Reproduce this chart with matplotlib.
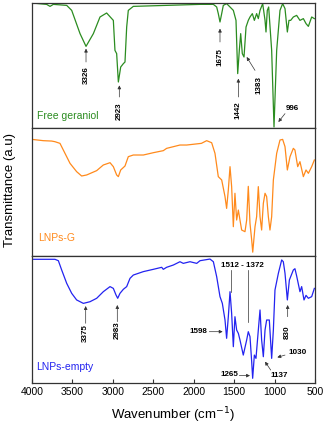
import matplotlib
matplotlib.use("Agg")
from matplotlib import pyplot as plt

plt.rcParams["font.family"] = ["Liberation Sans", "DejaVu Sans"]

wn_ger = [4000, 3819, 3777, 3736, 3571, 3509, 3406, 3332, 3241, 3159, 3077, 2994,
          2974, 2953, 2932, 2903, 2870, 2850, 2829, 2809, 2747, 2335, 1922, 1757,
          1716, 1696, 1675, 1654, 1634, 1593, 1551, 1510, 1477, 1456, 1436, 1419,
          1399, 1378, 1353, 1325, 1304, 1275, 1250, 1222, 1201, 1180, 1147, 1118,
          1106, 1090, 1073, 1036, 1007, 974, 933, 900, 871, 842, 822, 801, 768,
          727, 686, 644, 611, 582, 541, 508]
t_ger = [1.0, 0.989, 0.973, 0.989, 0.981, 0.941, 0.755, 0.653, 0.755, 0.888, 0.92,
         0.861, 0.621, 0.595, 0.368, 0.488, 0.515, 0.528, 0.808, 0.941, 0.973, 0.981,
         0.989, 0.989, 0.968, 0.915, 0.848, 0.915, 0.981, 0.995, 0.968, 0.941, 0.861,
         0.435, 0.621, 0.755, 0.595, 0.568, 0.808, 0.861, 0.888, 0.915, 0.861, 0.915,
         0.875, 0.941, 0.995, 0.861, 0.768, 0.941, 0.968, 0.621, 0.008, 0.621, 0.941,
         0.995, 0.955, 0.768, 0.861, 0.861, 0.888, 0.901, 0.861, 0.875, 0.835, 0.813,
         0.888, 0.875]

wn_g = [4000, 3860, 3757, 3716, 3654, 3592, 3530, 3448, 3386, 3324, 3200, 3118,
        3035, 2994, 2953, 2932, 2903, 2850, 2809, 2747, 2623, 2500, 2376, 2335,
        2252, 2170, 2087, 1905, 1840, 1778, 1737, 1696, 1654, 1613, 1593, 1572,
        1551, 1531, 1510, 1490, 1469, 1448, 1428, 1407, 1366, 1345, 1325, 1304,
        1283, 1270, 1242, 1222, 1201, 1180, 1160, 1139, 1118, 1098, 1077, 1057,
        1036, 1015, 974, 933, 900, 871, 842, 809, 768, 748, 714, 686, 644, 611,
        582, 541, 508]
t_g = [0.911, 0.901, 0.898, 0.893, 0.880, 0.802, 0.724, 0.659, 0.625, 0.633, 0.667,
       0.711, 0.729, 0.698, 0.633, 0.620, 0.672, 0.703, 0.776, 0.789, 0.789, 0.807,
       0.823, 0.841, 0.854, 0.867, 0.867, 0.880, 0.901, 0.885, 0.802, 0.620, 0.594,
       0.464, 0.372, 0.516, 0.698, 0.542, 0.229, 0.490, 0.281, 0.359, 0.281, 0.203,
       0.190, 0.281, 0.544, 0.255, 0.125, 0.03, 0.229, 0.307, 0.542, 0.307, 0.203,
       0.411, 0.490, 0.464, 0.307, 0.203, 0.307, 0.594, 0.802, 0.906, 0.911, 0.854,
       0.672, 0.776, 0.841, 0.828, 0.698, 0.737, 0.620, 0.672, 0.646, 0.698, 0.750]

wn_e = [4000, 3860, 3716, 3674, 3633, 3571, 3509, 3448, 3365, 3283, 3200, 3118,
        3035, 2994, 2961, 2940, 2912, 2870, 2829, 2788, 2747, 2623, 2500, 2396,
        2376, 2335, 2252, 2170, 2129, 2046, 1963, 1922, 1799, 1757, 1716, 1675,
        1646, 1613, 1593, 1572, 1551, 1531, 1510, 1490, 1469, 1448, 1428, 1387,
        1345, 1325, 1304, 1283, 1271, 1250, 1230, 1201, 1180, 1160, 1139, 1118,
        1098, 1065, 1036, 1015, 995, 953, 912, 892, 871, 842, 817, 768, 748, 727,
        686, 665, 636, 611, 582, 541, 508]
t_e = [0.974, 0.974, 0.974, 0.963, 0.890, 0.785, 0.706, 0.654, 0.627, 0.640, 0.667,
       0.719, 0.759, 0.745, 0.693, 0.667, 0.706, 0.738, 0.759, 0.824, 0.850, 0.877,
       0.895, 0.911, 0.895, 0.911, 0.929, 0.955, 0.942, 0.955, 0.942, 0.963, 0.976,
       0.955, 0.837, 0.680, 0.627, 0.496, 0.352, 0.522, 0.719, 0.549, 0.286, 0.522,
       0.417, 0.391, 0.339, 0.220, 0.339, 0.404, 0.365, 0.168, 0.037, 0.220, 0.194,
       0.417, 0.575, 0.339, 0.207, 0.417, 0.496, 0.496, 0.194, 0.417, 0.732, 0.864,
       0.969, 0.955, 0.864, 0.654, 0.811, 0.890, 0.900, 0.843, 0.719, 0.759, 0.654,
       0.690, 0.667, 0.680, 0.745]

xticks = [4000, 3500, 3000, 2500, 2000, 1500, 1000, 500]

green = "#2b8c20"
orange = "#ff8a1c"
blue = "#2323f0"
frame = "#333333"

fig = plt.figure(figsize=(3.25, 4.28), dpi=100)
left, width = 32 / 325, 283 / 325
ax1 = fig.add_axes([left, 300 / 428, width, 125 / 428])
ax2 = fig.add_axes([left, 172 / 428, width, 128 / 428])
ax3 = fig.add_axes([left, 45 / 428, width, 127 / 428])

for ax, wn, t, c in [(ax1, wn_ger, t_ger, green), (ax2, wn_g, t_g, orange),
                     (ax3, wn_e, t_e, blue)]:
    ax.plot(wn, t, color=c, lw=0.9)
    ax.set_xlim(4000, 500)
    ax.set_ylim(0, 1.0)
    ax.set_yticks([])
    for s in ax.spines.values():
        s.set_color(frame)
        s.set_linewidth(0.9)
    ax.set_xticks(xticks)
    ax.tick_params(axis="x", direction="in", length=3, width=0.8, color=frame)

ax1.set_xticklabels([])
ax2.set_xticklabels([])
ax1.tick_params(axis="x", length=0)
ax2.tick_params(axis="x", length=0)
ax3.set_xticklabels([str(v) for v in xticks], fontsize=7.5)
ax3.tick_params(axis="x", pad=3)
ax3.set_xlabel("Wavenumber (cm$^{-1}$)", fontsize=9.5, labelpad=6)
fig.text(0.03, 0.555, "Transmittance (a.u)", rotation=90, fontsize=9.5,
         ha="center", va="center")

ax1.text(3942, 0.093, "Free geraniol", color=green, fontsize=7.5, va="center")
ax2.text(3930, 0.14, "LNPs-G", color=orange, fontsize=7.5, va="center")
ax3.text(3950, 0.126, "LNPs-empty", color=blue, fontsize=7.5, va="center")

arw = dict(arrowstyle="-|>", color="#333333", lw=0.5, mutation_scale=5,
           shrinkA=0, shrinkB=0)
fs = 5.8


def vlabel(ax, text, x, head, tail, ty):
    ax.annotate("", xy=(x, head), xytext=(x, tail), arrowprops=arw)
    ax.text(x, ty, text, rotation=90, fontsize=fs, fontweight="bold",
            ha="center", va="center")


def alabel(ax, text, head, tail, tx, ty, ha="left"):
    ax.annotate("", xy=head, xytext=tail, arrowprops=arw)
    ax.text(tx, ty, text, fontsize=fs, fontweight="bold", ha=ha, va="center")


# geraniol bands
vlabel(ax1, "3326", 3332, 0.635, 0.528, 0.42)
vlabel(ax1, "2923", 2920, 0.341, 0.248, 0.136)
vlabel(ax1, "1675", 1675, 0.795, 0.688, 0.568)
vlabel(ax1, "1442", 1448, 0.395, 0.248, 0.141)
ax1.annotate("", xy=(1345, 0.568), xytext=(1242, 0.461), arrowprops=arw)
ax1.text(1189, 0.34, "1383", rotation=90, fontsize=fs, fontweight="bold",
         ha="center", va="center")
alabel(ax1, "996", (953, 0.048), (871, 0.115), 863, 0.155)

# empty nanoparticle bands
vlabel(ax3, "3375", 3336, 0.606, 0.470, 0.391)
vlabel(ax3, "2983", 2945, 0.614, 0.483, 0.417)
vlabel(ax3, "830", 838, 0.614, 0.522, 0.404)
alabel(ax3, "1598", (1642, 0.404), (1807, 0.404), 1830, 0.404, ha="right")
alabel(ax3, "1030", (966, 0.202), (871, 0.22), 830, 0.239)
alabel(ax3, "1137", (1118, 0.168), (1048, 0.102), 1055, 0.058)
alabel(ax3, "1265", (1304, 0.058), (1436, 0.058), 1450, 0.068, ha="right")
ax3.text(1399, 0.924, "1512 - 1372", fontsize=fs, fontweight="bold",
         ha="center", va="center")
ax3.plot([1543, 1543], [0.890, 0.719], color="#333333", lw=0.5)
ax3.plot([1325, 1325], [0.890, 0.483], color="#333333", lw=0.5)

fig.savefig("out.png", dpi=100)
